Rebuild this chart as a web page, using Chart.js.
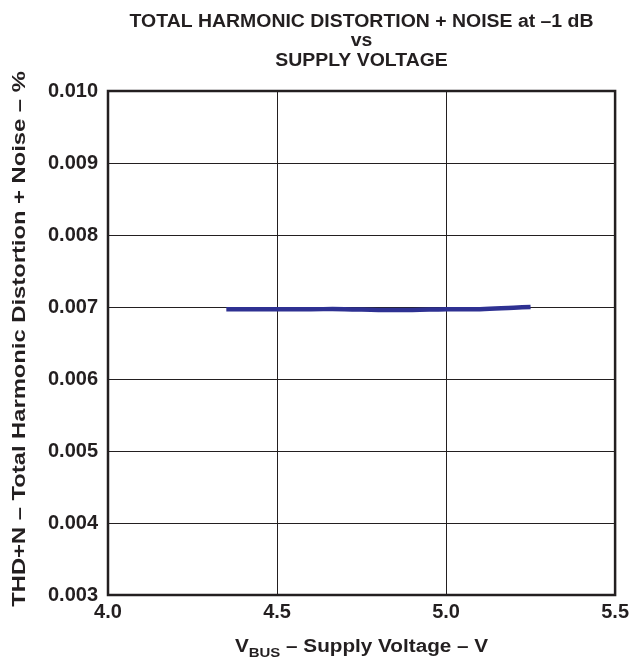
<!DOCTYPE html>
<html>
<head>
<meta charset="utf-8">
<script src="https://cdn.jsdelivr.net/npm/chart.js@4.4.1/dist/chart.umd.min.js"></script>
<style>
  html, body { margin: 0; padding: 0; background: #fff; }
  #wrap { width: 634px; height: 662px; position: relative; }
</style>
</head>
<body>
<div id="wrap"><canvas id="c" width="634" height="662"></canvas></div>
<script>
// Data
const supplyVolts = [4.35, 4.5, 4.6, 4.7, 4.8, 4.9, 5.0, 5.1, 5.2, 5.25];
const thdNoise = [0.00697, 0.00697, 0.00697, 0.00697, 0.00696, 0.00696, 0.00697, 0.00697, 0.00699, 0.00700];

const titleLines = ['TOTAL HARMONIC DISTORTION + NOISE at \u20131 dB', 'vs', 'SUPPLY VOLTAGE'];
const yTitle = 'THD+N \u2013 Total Harmonic Distortion + Noise \u2013 %';

const ink = '#231f20';
const fontFam = "'Liberation Sans', Arial, sans-serif";

Chart.defaults.font.family = fontFam;
Chart.defaults.color = ink;

// text drawn with a slight horizontal stretch, like the scanned original
function stretchText(ctx, text, x, y, sx) {
    ctx.save();
    ctx.translate(x, y);
    ctx.scale(sx, 1);
    ctx.fillText(text, 0, 0);
    ctx.restore();
}

// heading, axis titles (x one with subscript) and frame
const decor = {
    id: 'decor',
    afterDraw(chart) {
        const ctx = chart.ctx;
        const a = chart.chartArea;
        const cx = (a.left + a.right) / 2;
        ctx.save();
        ctx.strokeStyle = ink;
        ctx.lineWidth = 2.5;
        ctx.strokeRect(a.left, a.top, a.right - a.left, a.bottom - a.top);

        ctx.fillStyle = ink;
        ctx.textAlign = 'center';
        ctx.textBaseline = 'middle';
        ctx.font = 'bold 18px ' + fontFam;
        stretchText(ctx, titleLines[0], cx, 22, 1.08);
        stretchText(ctx, titleLines[1], cx, 41, 1.08);
        stretchText(ctx, titleLines[2], cx, 61, 1.08);

        // y title, rotated
        ctx.save();
        ctx.translate(20, 339);
        ctx.rotate(-Math.PI / 2);
        ctx.font = 'bold 18px ' + fontFam;
        stretchText(ctx, yTitle, 0, 0, 1.32);
        ctx.restore();

        // V_BUS – Supply Voltage – V
        const sx = 1.15;
        const big = 'bold 18px ' + fontFam;
        const small = 'bold 13px ' + fontFam;
        const p1 = 'V', p2 = 'BUS', p3 = ' \u2013 Supply Voltage \u2013 V';
        ctx.font = big; const w1 = ctx.measureText(p1).width; const w3 = ctx.measureText(p3).width;
        ctx.font = small; const w2 = ctx.measureText(p2).width;
        ctx.save();
        ctx.translate(cx - sx * (w1 + w2 + w3) / 2, 647);
        ctx.scale(sx, 1);
        ctx.textAlign = 'left';
        let x = 0;
        ctx.font = big; ctx.fillText(p1, x, 0); x += w1;
        ctx.font = small; ctx.fillText(p2, x, 6); x += w2;
        ctx.font = big; ctx.fillText(p3, x, 0);
        ctx.restore();
        ctx.restore();
    }
};

new Chart(document.getElementById('c').getContext('2d'), {
    type: 'scatter',
    data: {
        datasets: [{
            data: supplyVolts.map((v, i) => ({ x: v, y: thdNoise[i] })),
            showLine: true,
            borderColor: '#2e3192',
            borderWidth: 4.5,
            pointRadius: 0,
            tension: 0.4,
            fill: false
        }]
    },
    options: {
        responsive: false,
        animation: false,
        layout: { padding: { left: 0, right: 17, top: 91, bottom: 0 } },
        plugins: {
            legend: { display: false },
            tooltip: { enabled: false }
        },
        scales: {
            x: {
                type: 'linear',
                min: 4.0,
                max: 5.5,
                ticks: {
                    stepSize: 0.5,
                    padding: 5,
                    color: ink,
                    font: { size: 20, weight: 'bold' },
                    callback: v => v.toFixed(1)
                },
                grid: { color: ink, lineWidth: 1, drawTicks: false },
                border: { display: false },
                afterFit: s => { s.height = 67; }
            },
            y: {
                min: 0.003,
                max: 0.010,
                ticks: {
                    stepSize: 0.001,
                    padding: 10,
                    color: ink,
                    font: { size: 20, weight: 'bold' },
                    callback: v => v.toFixed(3)
                },
                grid: { color: ink, lineWidth: 1, drawTicks: false },
                border: { display: false },
                afterFit: s => { s.width = 108; }
            }
        }
    },
    plugins: [decor]
});
</script>
</body>
</html>
